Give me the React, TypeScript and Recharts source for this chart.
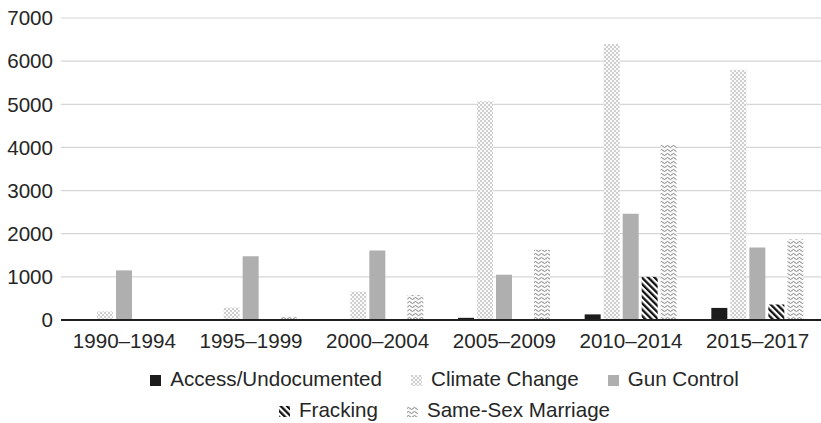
import { BarChart, Bar, XAxis, YAxis, CartesianGrid, Legend } from 'recharts';

const periods = ['1990–1994', '1995–1999', '2000–2004', '2005–2009', '2010–2014', '2015–2017'];
const seriesNames = ['Access/Undocumented', 'Climate Change', 'Gun Control', 'Fracking', 'Same-Sex Marriage'];
const access = [0, 0, 20, 50, 130, 280];
const climate = [200, 290, 660, 5070, 6400, 5800];
const gun = [1150, 1480, 1610, 1050, 2460, 1680];
const fracking = [0, 0, 0, 0, 1000, 360];
const sameSex = [0, 90, 580, 1630, 4060, 1870];
const yTicks = [0, 1000, 2000, 3000, 4000, 5000, 6000, 7000];

const data = periods.map((period, i) => ({
  period,
  access: access[i],
  climate: climate[i],
  gun: gun[i],
  fracking: fracking[i],
  sameSex: sameSex[i],
}));

const FONT = '"Liberation Sans", Arial, sans-serif';
const TEXT = '#262626';

function LegendContent({ payload }: any) {
  const items = [...(payload || [])].sort(
    (a: any, b: any) => seriesNames.indexOf(a.value) - seriesNames.indexOf(b.value)
  );
  const rows = [items.slice(0, 3), items.slice(3)];
  return (
    <div
      style={{
        height: 73,
        boxSizing: 'border-box',
        paddingTop: 17,
        paddingLeft: 68,
        fontFamily: FONT,
        fontSize: 20.6,
        color: TEXT,
      }}
    >
      {rows.map((row: any[], r: number) => (
        <div
          key={r}
          style={{
            display: 'flex',
            justifyContent: 'center',
            alignItems: 'baseline',
            height: 24,
            lineHeight: '24px',
            marginTop: r === 0 ? 0 : 7,
          }}
        >
          {row.map((entry: any, i: number) => (
            <div key={i} style={{ display: 'flex', alignItems: 'baseline', marginLeft: i === 0 ? 0 : 29 }}>
              <svg width={11} height={11} style={{ marginRight: 9 }}>
                <rect x={0} y={0} width={11} height={11} fill={entry.color} />
              </svg>
              <span>{entry.value}</span>
            </div>
          ))}
        </div>
      ))}
    </div>
  );
}

export default function App() {
  return (
    <div style={{ position: 'absolute', left: 0, top: 0, fontFamily: FONT }}>
      <BarChart
        width={821}
        height={423}
        data={data}
        margin={{ top: 18, right: 0, left: 0, bottom: 0 }}
        barSize={16}
        barGap={3}
      >
        <defs>
          <pattern id="climatePat" width={4} height={4} patternUnits="userSpaceOnUse">
            <rect width={4} height={4} fill="#fafafa" />
            <circle cx={1} cy={1} r={0.8} fill="#999" />
            <circle cx={3} cy={3} r={0.8} fill="#999" />
          </pattern>
          <pattern id="frackPat" width={4.5} height={4.5} patternUnits="userSpaceOnUse" patternTransform="rotate(-45)">
            <rect width={4.5} height={4.5} fill="#fff" />
            <rect width={2.3} height={4.5} fill="#111" />
          </pattern>
          <pattern id="samePat" width={6} height={4} patternUnits="userSpaceOnUse">
            <rect width={6} height={4} fill="#f8f8f8" />
            <path d="M0 2.5 Q1.5 0.5 3 2.5 T6 2.5" fill="none" stroke="#858585" strokeWidth={1} />
          </pattern>
        </defs>
        <CartesianGrid vertical={false} stroke="#d6d6d6" strokeWidth={1.2} />
        <XAxis
          dataKey="period"
          interval={0}
          height={30}
          tickLine={false}
          tickSize={0}
          tickMargin={13}
          axisLine={{ stroke: '#1f1f1f', strokeWidth: 2 }}
          tick={{ fill: TEXT, fontSize: 20.6, fontFamily: FONT }}
        />
        <YAxis
          domain={[0, 7000]}
          ticks={yTicks}
          width={61}
          axisLine={false}
          tickLine={false}
          tickSize={0}
          tickMargin={8}
          tick={{ fill: TEXT, fontSize: 20.6, fontFamily: FONT }}
        />
        <Legend verticalAlign="bottom" align="center" content={<LegendContent />} />
        <Bar dataKey="access" name={seriesNames[0]} fill="#1c1c1c" isAnimationActive={false} />
        <Bar dataKey="climate" name={seriesNames[1]} fill="url(#climatePat)" isAnimationActive={false} />
        <Bar dataKey="gun" name={seriesNames[2]} fill="#afafaf" isAnimationActive={false} />
        <Bar dataKey="fracking" name={seriesNames[3]} fill="url(#frackPat)" isAnimationActive={false} />
        <Bar dataKey="sameSex" name={seriesNames[4]} fill="url(#samePat)" isAnimationActive={false} />
      </BarChart>
    </div>
  );
}
